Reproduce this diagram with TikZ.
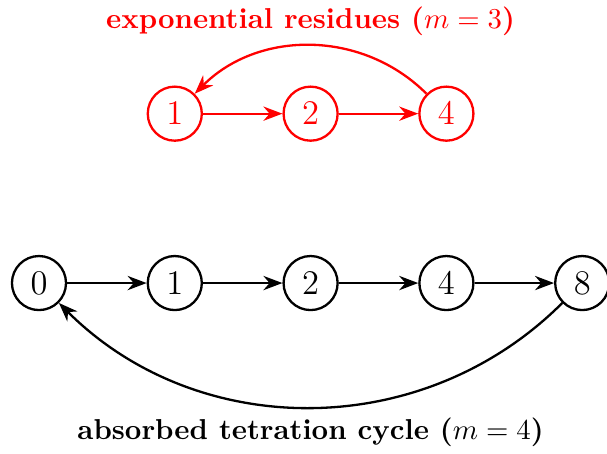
\documentclass[tikz,border=0pt]{standalone}
\usetikzlibrary{arrows.meta, positioning, calc}

\begin{document}
\begin{tikzpicture}[
  >=Stealth,
  % ── residue circles
  res/.style={
    draw, circle, thick, inner sep=0pt,
    minimum size=6.6mm, font=\large
  },
  % ── arrows
  arr/.style={->, thick},
  % ── captions
  captxt/.style={font=\bfseries},
]
\useasboundingbox (-0.476,-2.076) rectangle (6.935,3.456);

%% ═══════════════════════════════════════════════════════════════════════
%%  BOTTOM ROW — absorbed cycle
%% ═══════════════════════════════════════════════════════════════════════

\node[res] (B0) at (0,0) {$0$};
\node[res, right=9.7mm of B0] (B1) {$1$};
\node[res, right=9.7mm of B1] (B2) {$2$};
\node[res, right=9.7mm of B2] (B4) {$4$};
\node[res, right=9.7mm of B4] (B8) {$8$};

\draw[arr] (B0) -- (B1);
\draw[arr] (B1) -- (B2);
\draw[arr] (B2) -- (B4);
\draw[arr] (B4) -- (B8);

% back edge under the row
\draw[arr] (B8) to[out=-135, in=-45] (B0);

\node[captxt] (CAPB) at ($(B2)+(0,-1.82)$)
  {absorbed tetration cycle ($m=4$)};

%% ═══════════════════════════════════════════════════════════════════════
%%  TOP ROW — exponential residues
%% ═══════════════════════════════════════════════════════════════════════

\node[res, red, above=13.8mm of B1] (T1) {$1$};
\node[res, red, right=9.7mm of T1]  (T2) {$2$};
\node[res, red, right=9.7mm of T2]  (T4) {$4$};

\draw[arr, red] (T1) -- (T2);
\draw[arr, red] (T2) -- (T4);

% back edge over the row
\draw[arr, red] (T4) to[out=135, in=45] (T1);

\node[captxt, text=red] (CAPT) at ($(T2)+(0,1.13)$)
  {exponential residues ($m=3$)};

\end{tikzpicture}
\end{document}
